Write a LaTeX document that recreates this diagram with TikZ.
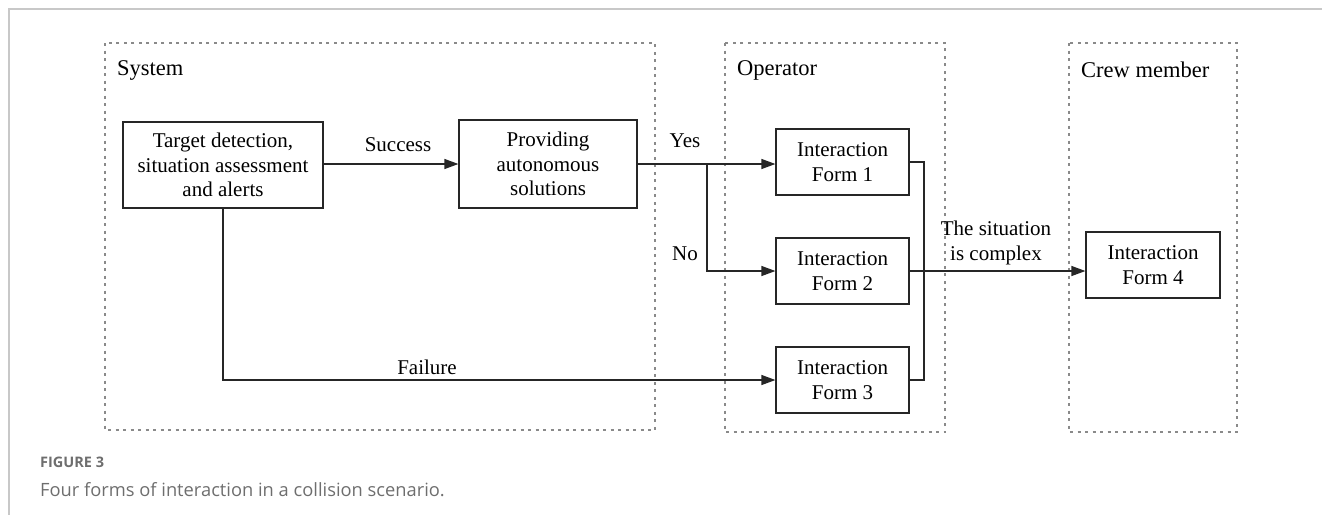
\documentclass[tikz,border=0pt]{standalone}
\usepackage{fontspec}
\setmainfont{Liberation Serif}
\newfontfamily\capfont{Open Sans}
\usetikzlibrary{arrows.meta}
\definecolor{framegray}{HTML}{C8C8C8}
\definecolor{dashgray}{HTML}{8A8A8A}
\definecolor{capgray}{HTML}{6E6E6E}
\tikzset{
  lane/.style={draw=dashgray,line width=1.1pt,dash pattern=on 3pt off 4.5pt},
  box/.style={draw=black!85,line width=1.2pt,align=center,inner sep=0pt,
    font=\fontsize{21}{24.5}\selectfont},
  lbl/.style={font=\fontsize{21}{24.5}\selectfont,inner sep=0pt,align=center},
  lanelbl/.style={font=\fontsize{22.5}{26}\selectfont,inner sep=0pt,anchor=west},
  conn/.style={draw=black!85,line width=1.2pt},
  arr/.style={conn,-{Triangle[length=14pt,width=10pt]}},
}
\begin{document}
\begin{tikzpicture}[x=1pt,y=-1pt]
\useasboundingbox (0,0) rectangle (1322,515);
% page frame
\draw[framegray,line width=1.2pt] (1322,9) -- (9,9) -- (9,515);
% lanes
\draw[lane] (105,43) rectangle (655,430);
\draw[lane] (725,43) rectangle (945,432);
\draw[lane] (1069,43) rectangle (1237,432);
\node[lanelbl] (lsys) at (117,70) {System};
\node[lanelbl] (lop) at (737,70) {Operator};
\node[lanelbl] (lcrew) at (1081,70) {Crew member};
% boxes
\node[box,minimum width=200pt,minimum height=86pt] (target) at (223,165) {Target detection,\\situation assessment\\and alerts};
\node[box,minimum width=178pt,minimum height=88pt] (prov) at (548,164) {Providing\\autonomous\\solutions};
\node[box,minimum width=133pt,minimum height=66pt] (if1) at (842.5,162) {Interaction\\Form 1};
\node[box,minimum width=133pt,minimum height=66pt] (if2) at (842.5,271) {Interaction\\Form 2};
\node[box,minimum width=133pt,minimum height=66pt] (if3) at (842.5,380) {Interaction\\Form 3};
\node[box,minimum width=134pt,minimum height=66pt] (if4) at (1153,265) {Interaction\\Form 4};
% connectors
\draw[arr] (target.east |- prov.west) -- (prov.west);
\draw[arr] (prov.east) -- (if1.west |- prov.east);
\coordinate (br) at (707,164);
\draw[arr] (br) |- (if2.west);
\draw[arr] (target.south) |- (if3.west);
\coordinate (cx) at (924,0);
\draw[conn] (if1.east) -| (cx |- if2.east) |- (if3.east);
\draw[arr] (if2.east) -- (if2.east -| if4.west);
% labels
\node[lbl] (lsucc) at (398,145) {Success};
\node[lbl] (lyes) at (685,141) {Yes};
\node[lbl] (lno) at (685,254) {No};
\node[lbl] (lfail) at (427,367) {Failure};
\node[lbl] (lcomp) at (996,243) {The situation\\is complex};
% caption
\node[anchor=west,inner sep=0pt,text=capgray,font=\capfont\bfseries\fontsize{14.5}{16}\selectfont] (cap1) at (40,462) {FIGURE 3};
\node[anchor=west,inner sep=0pt,text=capgray,font=\capfont\fontsize{18.3}{21}\selectfont] (cap2) at (40,490) {Four forms of interaction in a collision scenario.};
\end{tikzpicture}
\end{document}
